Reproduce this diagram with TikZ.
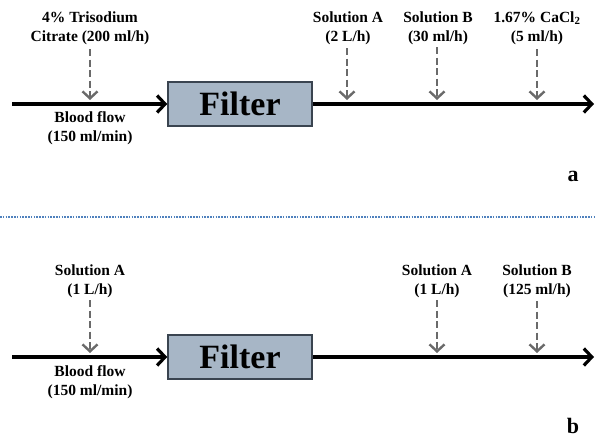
\documentclass[tikz,border=0pt]{standalone}
\usepackage{fontspec}
\setmainfont{Liberation Serif}
\usetikzlibrary{arrows.meta}
\definecolor{filterfill}{HTML}{A7B6C6}
\definecolor{filterdraw}{HTML}{3A4450}
\definecolor{dashgray}{HTML}{6A6A6A}
\definecolor{sepblue}{HTML}{4F81BD}
\begin{document}
\begin{tikzpicture}[x=1pt,y=-1pt,
  lbl/.style={font=\fontsize{15.5}{19}\selectfont\bfseries, align=center, inner sep=1pt},
  filterbox/.style={draw=filterdraw, line width=1.5pt, fill=filterfill, minimum width=144pt, minimum height=44pt, inner sep=0pt, font=\fontsize{34}{36}\selectfont\bfseries},
  flow/.style={line width=3.4pt, -{Straight Barb[length=8pt,width=17pt,line width=3.2pt]}},
  feed/.style={dashgray, line width=2.6pt, dash pattern=on 7pt off 3.5pt, -{Straight Barb[length=7pt,width=15pt,line width=2.4pt]}},
  panel/.style={font=\fontsize{22}{24}\selectfont\bfseries, inner sep=0pt}]
\useasboundingbox (0,0) rectangle (596,439);
% ---------- panel a ----------
\node[filterbox] (fa) at (240,104) {Filter};
\coordinate (sa) at (12,104);
\coordinate (ea) at (594,104);
\draw[flow] (sa) -- (fa.west);
\draw[flow] (fa.east) -- (ea);
\node[lbl] (la1) at (90,28) {4\% Trisodium\\Citrate (200 ml/h)};
\node[lbl] (la2) at (348,28) {Solution A\\(2 L/h)};
\node[lbl] (la3) at (438,28) {Solution B\\(30 ml/h)};
\node[lbl] (la4) at (537,28) {1.67\% CaCl\textsubscript{2}\\(5 ml/h)};
\node[lbl] (ba) at (90,128) {Blood flow\\(150 ml/min)};
\coordinate (pa1) at (90,100);
\coordinate (pa2) at (347,100);
\coordinate (pa3) at (437,100);
\coordinate (pa4) at (537,100);
\coordinate (ta1) at (90,49);
\coordinate (ta2) at (347,48);
\coordinate (ta3) at (437,47);
\coordinate (ta4) at (537,49);
\draw[feed] (ta1) -- (pa1);
\draw[feed] (ta2) -- (pa2);
\draw[feed] (ta3) -- (pa3);
\draw[feed] (ta4) -- (pa4);
\node[panel] (pa) at (573,176) {a};
% separator
\coordinate (s1) at (0,217);
\coordinate (s2) at (596,217);
\draw[sepblue, line width=1.5pt, dash pattern=on 1.5pt off 1.3pt] (s1) -- (s2);
% ---------- panel b ----------
\node[filterbox] (fb) at (240,357) {Filter};
\coordinate (sb) at (12,357);
\coordinate (eb) at (594,357);
\draw[flow] (sb) -- (fb.west);
\draw[flow] (fb.east) -- (eb);
\node[lbl] (lb1) at (90,281) {Solution A\\(1 L/h)};
\node[lbl] (lb2) at (437,281) {Solution A\\(1 L/h)};
\node[lbl] (lb3) at (537,281) {Solution B\\(125 ml/h)};
\node[lbl] (bb) at (90,382) {Blood flow\\(150 ml/min)};
\coordinate (pb1) at (90,353);
\coordinate (pb2) at (437,353);
\coordinate (pb3) at (537,353);
\coordinate (tb1) at (90,300);
\coordinate (tb2) at (437,300);
\coordinate (tb3) at (537,301);
\draw[feed] (tb1) -- (pb1);
\draw[feed] (tb2) -- (pb2);
\draw[feed] (tb3) -- (pb3);
\node[panel, anchor=base] (pb) at (573,433) {b};
\end{tikzpicture}
\end{document}
